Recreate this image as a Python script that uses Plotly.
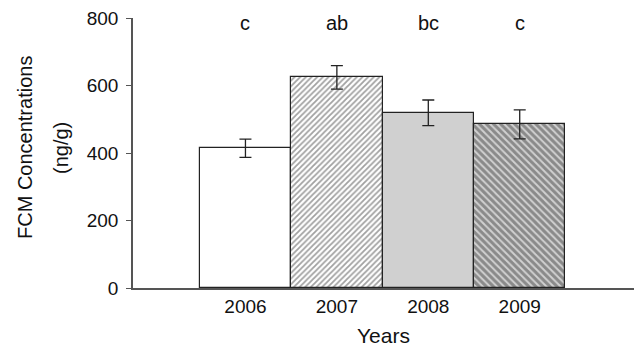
import plotly.graph_objects as go

years = ["2006", "2007", "2008", "2009"]
means = [414, 624, 519, 485]
errors = [27, 35, 38, 43]
letters = ["c", "ab", "bc", "c"]

xpos = list(range(len(years)))

fig = go.Figure()
fig.add_trace(go.Bar(
    x=xpos, y=means,
    width=1.0,
    marker=dict(
        color=["white", "white", "#d0d0d0", "#d0d0d0"],
        line=dict(color="#222222", width=1.2),
        pattern=dict(
            shape=["", "/", "", "\\"],
            fgcolor=["#222", "#8a8a8a", "#222", "#1a1a1a"],
            bgcolor=["white", "#f4f4f4", "#d0d0d0", "#d0d0d0"],
            size=[4, 4, 4, 5],
            solidity=[0.45, 0.45, 0.45, 0.6],
            fillmode="overlay",
        ),
    ),
    error_y=dict(type="data", array=errors, visible=True, color="#222222",
                 thickness=1.3, width=6),
    showlegend=False,
))

for x, l in zip(xpos, letters):
    fig.add_annotation(x=x, y=1, yref="paper", text=l, showarrow=False,
                       yanchor="middle", yshift=-5, font=dict(size=20, color="#111"))

# two-line y-axis title
fig.add_annotation(x=0, xref="paper", xshift=-108, xanchor="center",
                   y=0.5, yref="paper", yshift=5,
                   text="FCM Concentrations", textangle=-90, showarrow=False,
                   font=dict(size=20, color="#111"))
fig.add_annotation(x=0, xref="paper", xshift=-72, xanchor="center",
                   y=0.5, yref="paper", yshift=5,
                   text="(ng/g)", textangle=-90, showarrow=False,
                   font=dict(size=20, color="#111"))

fig.update_layout(
    width=637, height=350,
    margin=dict(l=133, r=3, t=18, b=62),
    plot_bgcolor="white", paper_bgcolor="white",
    bargap=0,
    font=dict(family="Liberation Sans, Arial, sans-serif", color="#111"),
)
fig.update_xaxes(
    range=[-1.23, 4.25],
    tickmode="array", tickvals=xpos, ticktext=years,
    showline=True, linecolor="#555", linewidth=1.5,
    ticks="", showgrid=False, zeroline=False,
    tickfont=dict(size=19),
    title=dict(text="Years", font=dict(size=21), standoff=13),
)
fig.update_yaxes(
    range=[0, 800], tickvals=[0, 200, 400, 600, 800],
    showline=True, linecolor="#555", linewidth=1.5,
    ticks="outside", ticklen=5, tickcolor="#555",
    showgrid=False, zeroline=False,
    tickfont=dict(size=19),
    ticklabelstandoff=4,
)

fig.write_html("out.html")
